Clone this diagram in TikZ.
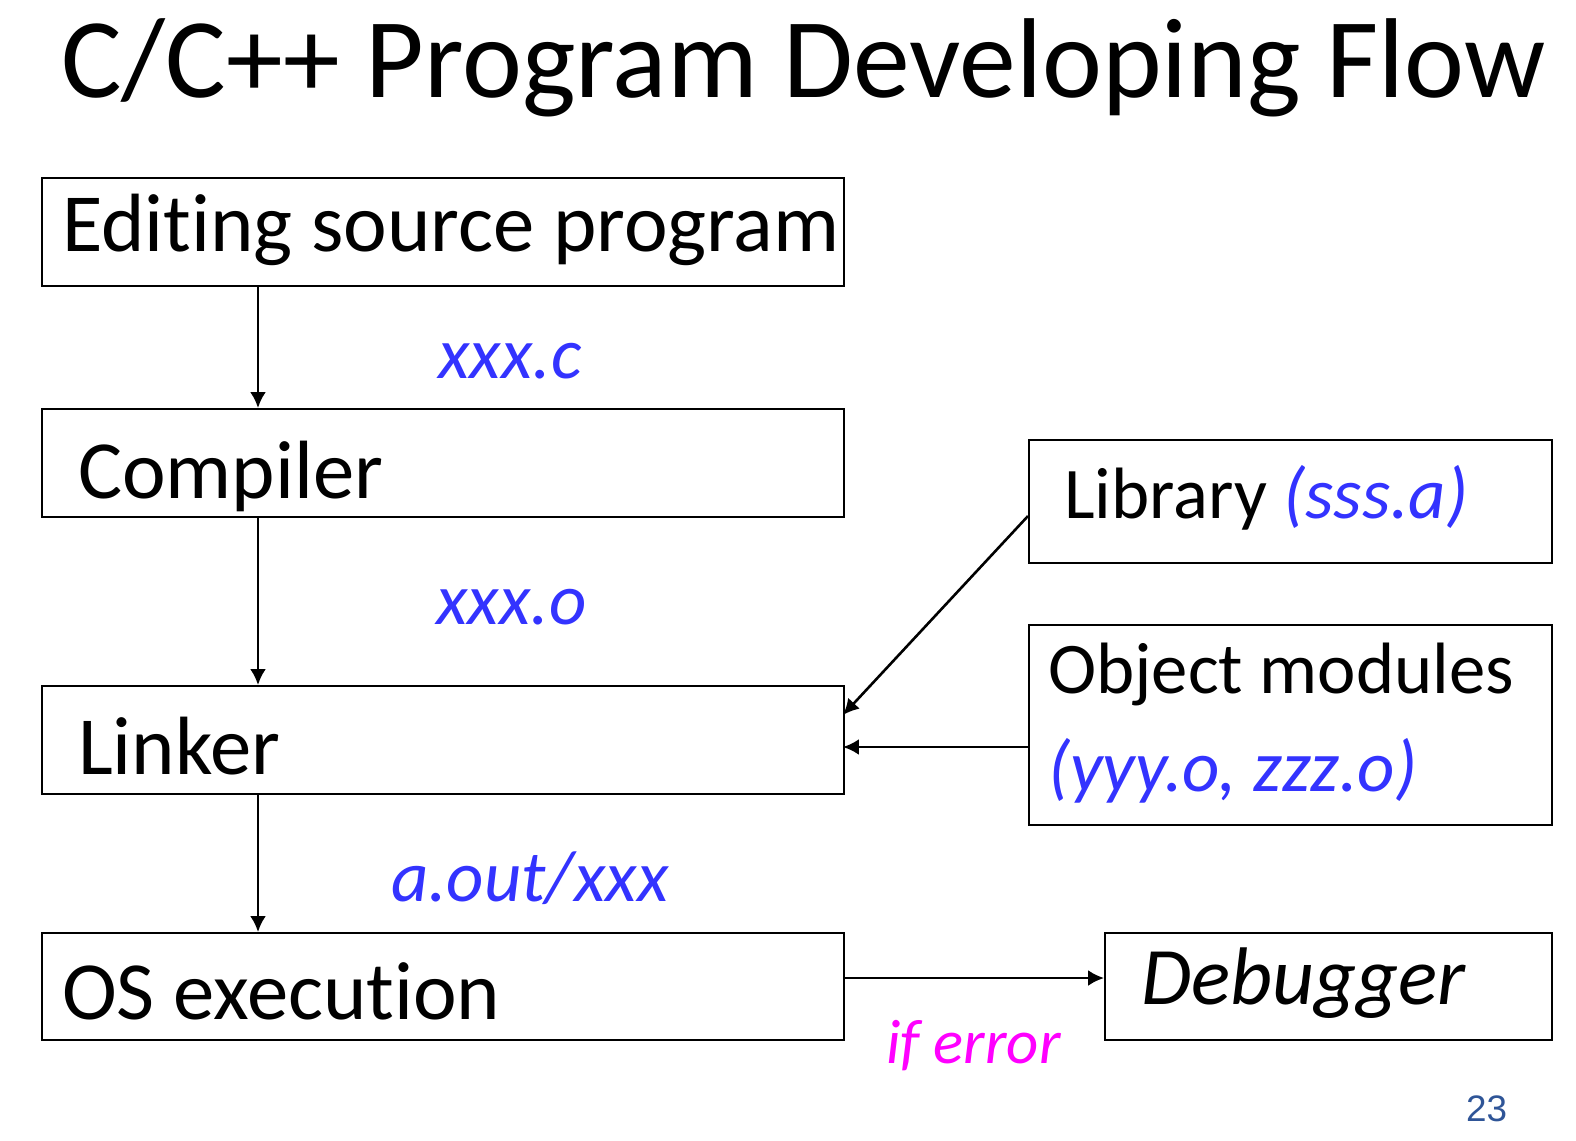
\documentclass[tikz,border=0pt]{standalone}
\usepackage{fontspec}
\setmainfont{Carlito}[Ligatures=NoCommon]
\newfontfamily\arialf{Liberation Sans}
\usetikzlibrary{arrows.meta}
\definecolor{lblblue}{HTML}{3333FF}
\definecolor{lblmag}{HTML}{FF00FF}
\definecolor{pgnum}{HTML}{2F5597}
\tikzset{
  box/.style={draw=black,line width=2.2pt,inner sep=0pt,anchor=north west},
  txt/.style={inner sep=0pt,anchor=base west},
  conn/.style={draw=black,line width=2.6pt,-{Latex[length=16pt,width=16pt]}},
  lbl/.style={inner sep=0pt,anchor=base west,text=lblblue,font=\fontsize{73}{78}\selectfont\itshape}}
\begin{document}
\begin{tikzpicture}[x=1bp,y=-1bp]
\useasboundingbox (0,0) rectangle (1576,1140);
% title
\node[txt,font=\fontsize{114}{118}\selectfont] (title) at (61,97) {C/C++ Program Developing Flow};
% boxes
\node[box,minimum width=802bp,minimum height=108bp] (edit) at (41,177) {};
\node[box,minimum width=802bp,minimum height=108bp] (comp) at (41,408) {};
\node[box,minimum width=802bp,minimum height=108bp] (link) at (41,685) {};
\node[box,minimum width=802bp,minimum height=107bp] (os) at (41,932) {};
\node[box,minimum width=523bp,minimum height=123bp] (lib) at (1028,439) {};
\node[box,minimum width=523bp,minimum height=200bp] (obj) at (1028,624) {};
\node[box,minimum width=447bp,minimum height=107bp] (dbg) at (1104,932) {};
% texts
\node[txt,font=\fontsize{83}{88}\selectfont] (tedit) at (62,251) {Editing source program};
\node[txt,font=\fontsize{83}{88}\selectfont] (tcomp) at (78,498) {Compiler};
\node[txt,font=\fontsize{83}{88}\selectfont] (tlink) at (78,774) {Linker};
\node[txt,font=\fontsize{83}{88}\selectfont] (tos) at (62,1019) {OS execution};
\node[txt,font=\fontsize{73}{78}\selectfont] (tlib) at (1064,518) {Library \textcolor{lblblue}{\itshape(sss.a)}};
\node[txt,font=\fontsize{73}{78}\selectfont] (tobj) at (1048,693) {Object modules};
\node[txt,font=\fontsize{73}{78}\selectfont\itshape,text=lblblue] (tobj2) at (1048,791) {(yyy.o, zzz.o)};
\node[txt,font=\fontsize{82}{86}\selectfont\itshape] (tdbg) at (1141,1004) {Debugger};
% labels
\node[lbl] (l1) at (438,378) {xxx.c};
\node[lbl] (l2) at (436,624) {xxx.o};
\node[lbl] (l3) at (391,901) {a.out/xxx};
\node[txt,text=lblmag,font=\fontsize{63}{66}\selectfont\itshape] (l4) at (886,1063) {if error};
\node[txt,text=pgnum,font=\arialf\fontsize{37}{40}\selectfont] (pg) at (1466,1121) {23};
% connectors
\coordinate (e1) at (258,285);
\coordinate (c1) at (258,408);
\coordinate (c2) at (258,516);
\coordinate (k1) at (258,685);
\coordinate (k2) at (258,793);
\coordinate (o1) at (258,932);
\draw[conn] (e1) -- (c1);
\draw[conn] (c2) -- (k1);
\draw[conn] (k2) -- (o1);
\coordinate (libl) at (1028,516);
\coordinate (linkr1) at (843,715);
\draw[conn] (libl) -- (linkr1);
\coordinate (objl) at (1028,747);
\coordinate (linkr2) at (843,747);
\draw[conn] (objl) -- (linkr2);
\coordinate (osr) at (843,978);
\coordinate (dbgl) at (1104,978);
\draw[conn] (osr) -- (dbgl);
\end{tikzpicture}
\end{document}
